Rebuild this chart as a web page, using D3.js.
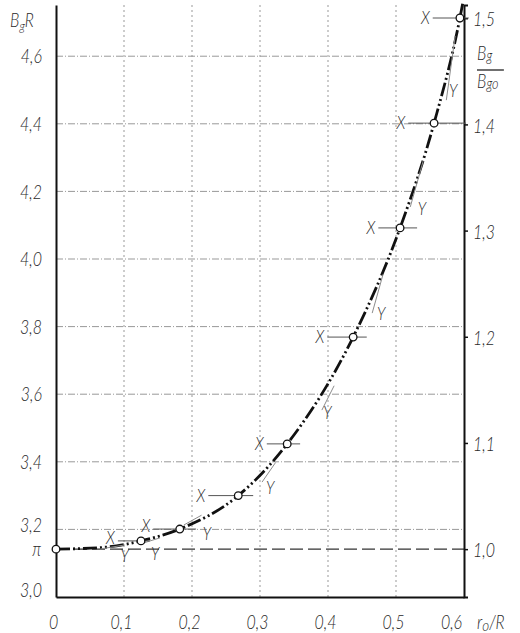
<!DOCTYPE html>
<html>
<head>
<meta charset="utf-8">
<script src="https://d3js.org/d3.v7.min.js"></script>
<style>
  body { margin: 0; background: #fff; }
  svg text { font-family: "Lato", "Liberation Sans", Arial, sans-serif; font-weight: 300; font-style: italic; fill: #2a2a2a; }
  .grid-h { stroke: #999; stroke-width: 1; stroke-dasharray: 7,2,1,2; fill: none; }
  .grid-v { stroke: #999; stroke-width: 1; stroke-dasharray: 2,3; fill: none; }
</style>
</head>
<body>
<div id="chart"></div>
<script>
// axis ticks
const xTicks = [0, 0.1, 0.2, 0.3, 0.4, 0.5, 0.6];
const yTicks = [3.0, 3.2, 3.4, 3.6, 3.8, 4.0, 4.2, 4.4, 4.6];
const ratioTicks = [1.0, 1.1, 1.2, 1.3, 1.4, 1.5];

// curve B_gR against r0/R
const curveR = [0, 0.065, 0.125, 0.182, 0.268, 0.340, 0.437, 0.506, 0.556, 0.594, 0.598];
const curveB = [3.1416, 3.146, 3.166, 3.201, 3.300, 3.453, 3.769, 4.092, 4.402, 4.713, 4.755];

// marked points (open circles)
const pointR = [0, 0.125, 0.182, 0.268, 0.340, 0.437, 0.506, 0.556, 0.594];
const pointB = [3.1416, 3.166, 3.201, 3.300, 3.453, 3.769, 4.092, 4.402, 4.713];

// X marks: horizontal strokes through points 1..8
const xMarkFrom = [0.091, 0.143, 0.224, 0.310, 0.399, 0.474, 0.518, 0.554];
const xMarkTo   = [0.138, 0.206, 0.290, 0.359, 0.457, 0.531, 0.603, 0.607];

// Y marks: thin strokes alongside the curve, with their label
const yMarkR1 = [0.587, 0.540, 0.481, 0.409, 0.323, 0.214, 0.153, 0.101];
const yMarkB1 = [4.660, 4.290, 3.955, 3.625, 3.398, 3.242, 3.175, 3.154];
const yMarkR2 = [0.574, 0.521, 0.465, 0.391, 0.303, 0.188, 0.124, 0.065];
const yMarkB2 = [4.470, 4.154, 3.840, 3.553, 3.340, 3.213, 3.157, 3.142];
const yLabelR = [0.584, 0.538, 0.478, 0.399, 0.315, 0.222, 0.146, 0.101];
const yLabelB = [4.500, 4.151, 3.840, 3.547, 3.325, 3.189, 3.130, 3.124];

const margin = { top: 5, right: 56, bottom: 36, left: 56 },
      width = 520 - margin.left - margin.right,
      height = 633 - margin.top - margin.bottom;

const x = d3.scaleLinear().domain([0, 0.6]).range([0, width]);
const y = d3.scaleLinear().domain([3.0, 4.7515]).range([height, 0]);
const yr = d3.scaleLinear().domain([3.0 / Math.PI, 4.7515 / Math.PI]).range([height, 0]);

const comma = v => d3.format(".1f")(v).replace(".", ",");
const fmtX = v => v === 0 ? "0" : comma(v);
const SX = 0.84; // narrow lettering

const svg = d3.select("#chart").append("svg")
    .attr("width", 520)
    .attr("height", 633);
const g = svg.append("g")
    .attr("transform", `translate(${margin.left},${margin.top})`);

// grid
g.selectAll(".grid-h")
    .data(yTicks.filter(v => v > 3.0))
    .enter().append("line")
    .attr("class", "grid-h")
    .attr("x1", 0).attr("x2", width)
    .attr("y1", d => y(d)).attr("y2", d => y(d));

g.selectAll(".grid-v")
    .data(xTicks.filter(v => v > 0 && v < 0.6))
    .enter().append("line")
    .attr("class", "grid-v")
    .attr("x1", d => x(d)).attr("x2", d => x(d))
    .attr("y1", 0).attr("y2", height);

// pi reference line
g.append("line")
    .attr("x1", 0).attr("x2", width)
    .attr("y1", y(Math.PI)).attr("y2", y(Math.PI))
    .style("stroke", "#333")
    .style("stroke-width", 1.4)
    .style("stroke-dasharray", "13,5");

// axes
const axL = g.append("g").call(d3.axisLeft(y).tickValues(yTicks).tickSize(0).tickFormat(comma));
const axB = g.append("g").attr("transform", `translate(0,${height})`)
    .call(d3.axisBottom(x).tickValues(xTicks).tickSize(0).tickFormat(fmtX));
const axR = g.append("g").attr("transform", `translate(${width},0)`)
    .call(d3.axisRight(yr).tickValues(ratioTicks).tickSize(4).tickFormat(comma));

[axL, axB, axR].forEach(a => {
    a.select(".domain").style("stroke", "#111").style("stroke-width", 2);
    a.selectAll(".tick line").style("stroke", "#111").style("stroke-width", 1.5);
    a.selectAll(".tick text").style("font-size", "19px").style("font-family", null);
});

axL.selectAll(".tick text")
    .attr("x", -14 / SX)
    .attr("dy", d => d === 3.0 ? "-0.05em" : d === 3.2 ? "0.1em" : "0.35em")
    .attr("transform", `scale(${SX},1)`);
axB.selectAll(".tick text")
    .attr("y", 0).attr("dy", 0)
    .attr("text-anchor", "middle")
    .attr("transform", d => `translate(${d === 0.6 ? -13 : -3},32) scale(${SX},1)`);
axR.selectAll(".tick text")
    .attr("x", 9 / SX)
    .attr("dy", "0.4em")
    .attr("transform", `scale(${SX},1)`);

// pi label on the left axis
g.append("text")
    .attr("transform", `translate(-15,${y(Math.PI) + 7}) scale(${SX},1)`)
    .attr("text-anchor", "end")
    .style("font-size", "19px")
    .text("π");

// curve
const pts = curveR.map((r, i) => [r, curveB[i]]);
const line = d3.line()
    .x(d => x(d[0]))
    .y(d => y(d[1]))
    .curve(d3.curveMonotoneX);

g.append("path")
    .datum(pts)
    .attr("d", line)
    .style("fill", "none")
    .style("stroke", "#111")
    .style("stroke-width", 2.8)
    .style("stroke-dasharray", "14,3,2,3,2,3");

// Y marks
yMarkR1.forEach((r, i) => {
    g.append("line")
        .attr("x1", x(r)).attr("y1", y(yMarkB1[i]))
        .attr("x2", x(yMarkR2[i])).attr("y2", y(yMarkB2[i]))
        .style("stroke", "#8c8c8c")
        .style("stroke-width", 1);
    g.append("text")
        .attr("transform", `translate(${x(yLabelR[i])},${y(yLabelB[i]) + 7}) scale(${SX},1)`)
        .attr("text-anchor", "middle")
        .style("font-size", "18px")
        .text("Y");
});

// X marks
xMarkFrom.forEach((r, i) => {
    const yy = y(pointB[i + 1]);
    g.append("line")
        .attr("x1", x(r)).attr("x2", x(xMarkTo[i]))
        .attr("y1", yy).attr("y2", yy)
        .style("stroke", "#555")
        .style("stroke-width", 1);
    g.append("text")
        .attr("transform", `translate(${x(r) - 3},${yy + 6 - (i < 2 ? 3 : 0)}) scale(${SX},1)`)
        .attr("text-anchor", "end")
        .style("font-size", "18px")
        .text("X");
});

// points
g.selectAll(".pt")
    .data(pointR.map((r, i) => [r, pointB[i]]))
    .enter().append("circle")
    .attr("class", "pt")
    .attr("cx", d => x(d[0]))
    .attr("cy", d => y(d[1]))
    .attr("r", 3.8)
    .style("fill", "#fff")
    .style("stroke", "#111")
    .style("stroke-width", 1.3);

// axis titles
const tl = svg.append("text")
    .attr("transform", `translate(10,27) scale(${SX},1)`)
    .style("font-size", "19px");
tl.append("tspan").text("B");
tl.append("tspan").attr("dy", 4).style("font-size", "14px").text("g");
tl.append("tspan").attr("dy", -4).text("R");

const rt = svg.append("g").attr("transform", `translate(477,0) scale(${SX},1)`);
const t1 = rt.append("text").attr("y", 60).style("font-size", "19px");
t1.append("tspan").text("B");
t1.append("tspan").attr("dy", 1).style("font-size", "15px").text("g");
rt.append("line")
    .attr("x1", 0).attr("x2", 32)
    .attr("y1", 70).attr("y2", 70)
    .style("stroke", "#222").style("stroke-width", 1.3);
const t2 = rt.append("text").attr("y", 88).style("font-size", "19px");
t2.append("tspan").text("B");
t2.append("tspan").attr("dy", 1).style("font-size", "15px").text("go");

const bt = svg.append("text")
    .attr("transform", `translate(477,629) scale(${SX},1)`)
    .style("font-size", "19px");
bt.append("tspan").text("r");
bt.append("tspan").attr("dy", 2).style("font-size", "16px").text("o");
bt.append("tspan").attr("dy", -2).text("/R");
</script>
</body>
</html>
